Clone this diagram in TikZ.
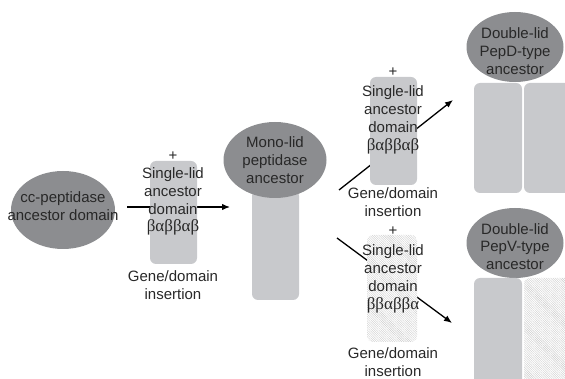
\documentclass[tikz,border=0pt]{standalone}
\usepackage{fontspec}
\setmainfont{Liberation Sans}
\newfontfamily\greekfont{Liberation Serif}
\usetikzlibrary{arrows.meta,patterns.meta,shapes.geometric,backgrounds}
\definecolor{lidgray}{RGB}{140,141,144}
\definecolor{bargray}{RGB}{200,201,204}
\definecolor{inkgray}{RGB}{40,40,40}
\newcommand{\grk}[1]{{\greekfont\fontsize{17}{17.8}\selectfont #1}}
\begin{document}
\begin{tikzpicture}[x=1pt,y=-1pt,
  every node/.style={font=\fontsize{15}{17.8}\selectfont,text=inkgray,align=center,inner sep=0pt},
  lid/.style={ellipse,fill=lidgray},
  bar/.style={rounded corners=6pt,fill=bargray},
  hatched/.style={rounded corners=6pt,preaction={fill=white},pattern={Lines[angle=-45,distance=1.6pt,line width=0.4pt]},pattern color=gray!40},
  arr/.style={-{Latex[length=8pt,width=6.5pt]},line width=1.3pt}]
\useasboundingbox (0,0) rectangle (565,379);
\clip (0,0) rectangle (565,379);

\node[lid,minimum width=104,minimum height=78] (cc) at (63,210) {};
\node (cctext) at (63,206) {cc-peptidase\\ancestor domain};

\node[bar,minimum width=47,minimum height=103] (box1) at (173.5,212.5) {};
\node (plus1) at (173,156) {+};
\node (lid1) at (173,201.5) {Single-lid\\ancestor\\domain\\\grk{βαββαβ}};
\node (gene1) at (173,285.5) {Gene/domain\\insertion};

\node[bar,minimum width=47,minimum height=110] (monobar) at (275.5,245) {};
\node[lid,minimum width=103,minimum height=76] (mono) at (275,160) {};
\node (monotext) at (275,160) {Mono-lid\\peptidase\\ancestor};

\node[bar,minimum width=47,minimum height=108] (box2) at (393.5,131) {};
\node (plus2) at (393,72) {+};
\node (lid2) at (393,120) {Single-lid\\ancestor\\domain\\\grk{βαββαβ}};
\node (gene2) at (393,202.5) {Gene/domain\\insertion};

\node[hatched,minimum width=50,minimum height=107] (box3) at (392,288.5) {};
\node (plus3) at (393,231) {+};
\node (lid3) at (393,279) {Single-lid\\ancestor\\domain\\\grk{ββαββα}};
\node (gene3) at (393,362.5) {Gene/domain\\insertion};

\node[lid,minimum width=97,minimum height=70] (pepd) at (515,47) {};
\node (pepdtext) at (515,51) {Double-lid\\PepD-type\\ancestor};
\node[bar,minimum width=48,minimum height=110] (pepdbarA) at (498,138) {};
\node[bar,minimum width=48,minimum height=110] (pepdbarB) at (548,138) {};

\node[lid,minimum width=97,minimum height=70] (pepv) at (515,243) {};
\node (pepvtext) at (515,246.5) {Double-lid\\PepV-type\\ancestor};
\node[bar,minimum width=48,minimum height=120] (pepvbarA) at (498,338) {};
\node[hatched,minimum width=48,minimum height=120] (pepvbarB) at (548,338) {};

\coordinate (monoin) at (230,207);
\coordinate (upfrom) at (339,190);
\coordinate (upto) at (453,100);
\coordinate (downfrom) at (337,238);
\coordinate (downto) at (452,323);

\begin{scope}[on background layer]
\draw[arr,shorten <=12pt] (cc.east |- monoin) -- (monoin);
\draw[arr] (upfrom) -- (upto);
\draw[arr] (downfrom) -- (downto);
\end{scope}
\end{tikzpicture}
\end{document}
